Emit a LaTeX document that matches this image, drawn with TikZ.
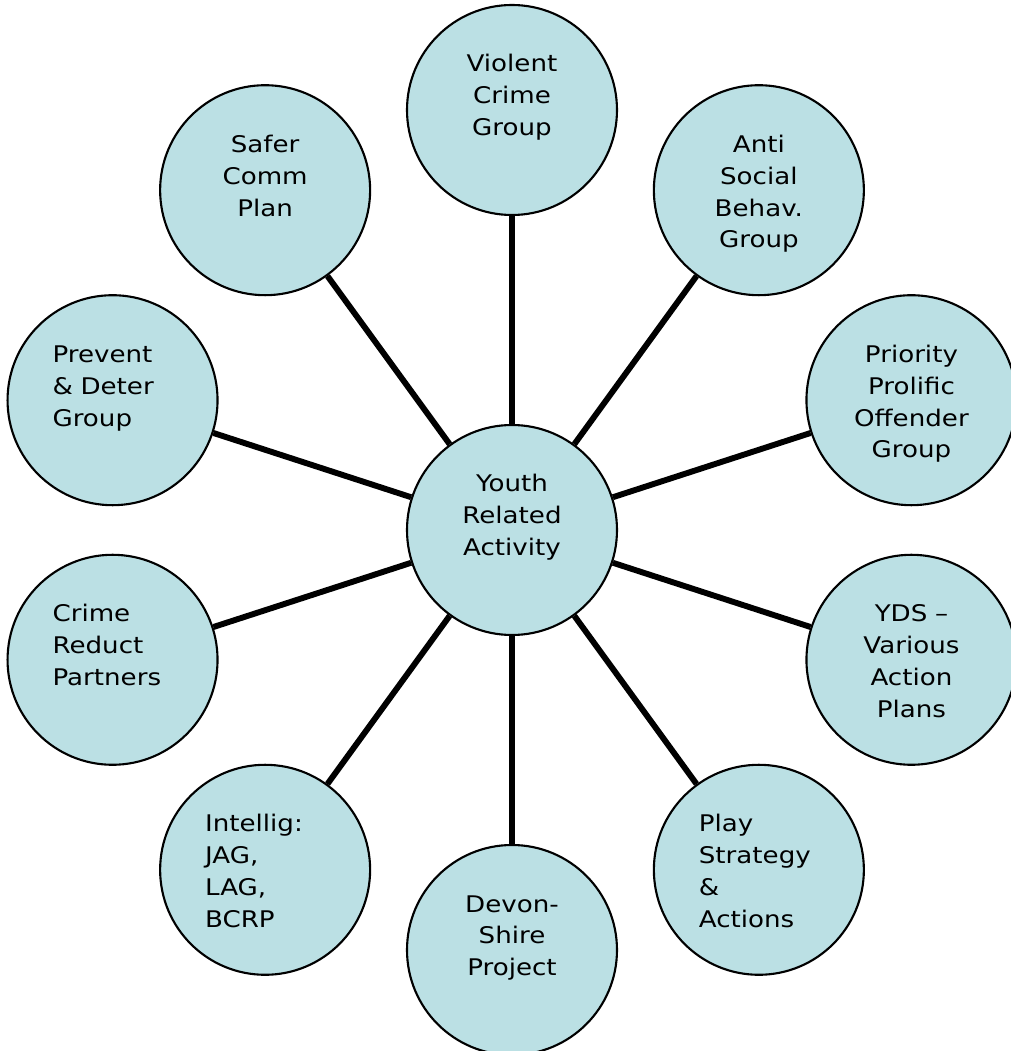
\documentclass[tikz,border=0pt]{standalone}
\usepackage{fontspec}
\setmainfont{DejaVu Sans}[FakeStretch=1.14]
\usetikzlibrary{backgrounds}
\definecolor{bubblefill}{RGB}{187,224,228}
\tikzset{
	diagram/.style={font=\fontsize{16.3pt}{22.7pt}\selectfont},
	bubble/.style={draw, circle, line width=1.5pt, fill=bubblefill, minimum size=5.25cm,
	               inner sep=0pt, text width=3cm, text height=0.5cm, text depth=2.4cm, align=center},
	spoke/.style={line width=4.2pt},
}

\begin{document}
\begin{tikzpicture}[diagram]

\useasboundingbox (-12.8,-13.025) rectangle (12.45,13.25);

\node[bubble] (youth) at (0,0) {Youth\\Related\\Activity};

\node[bubble] (violent) at (90:10.5) {Violent\\Crime\\Group};
\node[bubble] (antisocial) at (54:10.5) {Anti\\Social\\Behav.\\Group};
\node[bubble] (priority) at (18:10.5) {Priority\\Prolific\\Offender\\Group};
\node[bubble] (yds) at (-18:10.5) {YDS –\\Various\\Action\\Plans};
\node[bubble, align=left] (play) at (-54:10.5) {Play\\Strategy\\\&\\Actions};
\node[bubble] (devon) at (-90:10.5) {Devon-\\Shire\\Project};
\node[bubble, align=left] (intellig) at (-126:10.5) {Intellig:\\JAG,\\LAG,\\BCRP};
\node[bubble, align=left] (crime) at (-162:10.5) {Crime\\Reduct\\Partners};
\node[bubble, align=left] (prevent) at (162:10.5) {Prevent\\\& Deter\\Group};
\node[bubble] (safer) at (126:10.5) {Safer\\Comm\\Plan};

\begin{scope}[on background layer]
\draw[spoke] (youth) -- (violent);
\draw[spoke] (youth) -- (antisocial);
\draw[spoke] (youth) -- (priority);
\draw[spoke] (youth) -- (yds);
\draw[spoke] (youth) -- (play);
\draw[spoke] (youth) -- (devon);
\draw[spoke] (youth) -- (intellig);
\draw[spoke] (youth) -- (crime);
\draw[spoke] (youth) -- (prevent);
\draw[spoke] (youth) -- (safer);
\end{scope}

\end{tikzpicture}
\end{document}
